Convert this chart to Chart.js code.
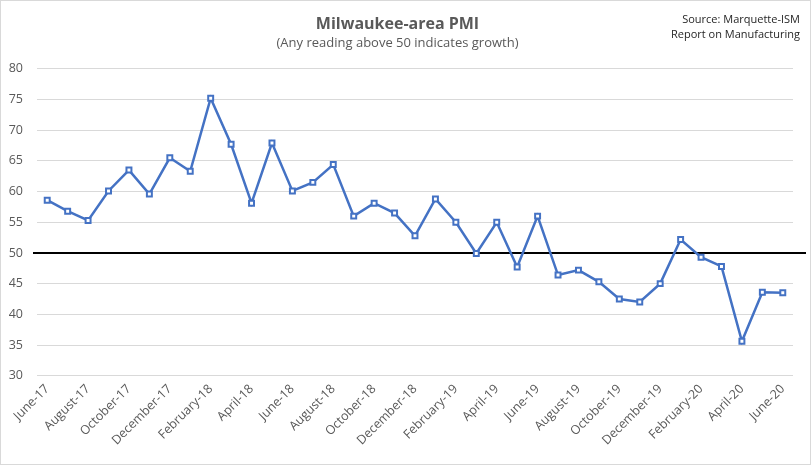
<!DOCTYPE html>
<html>
<head>
<meta charset="utf-8">
<script src="https://cdn.jsdelivr.net/npm/chart.js@4.4.1/dist/chart.umd.min.js"></script>
<style>
    html, body { margin: 0; padding: 0; background: #fff; }
    canvas { display: block; }
</style>
</head>
<body>
<canvas id="pmiChart" width="811" height="465"></canvas>
<script>
// Month labels, June 2017 to June 2020
const months = [
    'June-17', 'July-17', 'August-17', 'September-17', 'October-17', 'November-17',
    'December-17', 'January-18', 'February-18', 'March-18', 'April-18', 'May-18',
    'June-18', 'July-18', 'August-18', 'September-18', 'October-18', 'November-18',
    'December-18', 'January-19', 'February-19', 'March-19', 'April-19', 'May-19',
    'June-19', 'July-19', 'August-19', 'September-19', 'October-19', 'November-19',
    'December-19', 'January-20', 'February-20', 'March-20', 'April-20', 'May-20',
    'June-20'
];

// PMI readings
const pmiValues = [
    58.6, 56.8, 55.3, 60.1, 63.5, 59.6,
    65.5, 63.3, 75.2, 67.7, 58.1, 67.9,
    60.1, 61.5, 64.4, 56.0, 58.1, 56.5,
    52.8, 58.8, 55.0, 49.9, 55.0, 47.7,
    56.0, 46.4, 47.2, 45.3, 42.5, 42.0,
    45.0, 52.2, 49.3, 47.8, 35.6, 43.6,
    43.5
];

const growthLine = 50;
const yMin = 30;
const yMax = 80;
const yStep = 5;

const textGray = '#595959';
const lineBlue = '#4472C4';

// Draws the 50 threshold line, the source note and the outer border
const extras = {
    id: 'extras',
    beforeDraw(chart) {
        const ctx = chart.ctx;
        ctx.save();
        ctx.fillStyle = '#ffffff';
        ctx.fillRect(0, 0, chart.width, chart.height);
        ctx.restore();
    },
    beforeDatasetsDraw(chart) {
        const ctx = chart.ctx;
        const area = chart.chartArea;
        const y = chart.scales.y.getPixelForValue(growthLine);
        ctx.save();
        ctx.strokeStyle = '#000000';
        ctx.lineWidth = 2;
        ctx.beginPath();
        ctx.moveTo(area.left - 4, y);
        ctx.lineTo(area.right + 13, y);
        ctx.stroke();
        ctx.restore();
    },
    afterDraw(chart) {
        const ctx = chart.ctx;
        ctx.save();
        ctx.fillStyle = '#262626';
        ctx.font = '11px "Open Sans"';
        ctx.textAlign = 'right';
        ctx.textBaseline = 'middle';
        ctx.fillText('Source: Marquette-ISM', 800, 20);
        ctx.fillText('Report on Manufacturing', 800, 35);
        ctx.strokeStyle = '#d9d9d9';
        ctx.lineWidth = 1;
        ctx.strokeRect(0.5, 0.5, chart.width - 1, chart.height - 1);
        ctx.restore();
    }
};

const ctx = document.getElementById('pmiChart');

new Chart(ctx, {
    type: 'line',
    data: {
        labels: months,
        datasets: [{
            label: 'PMI',
            data: pmiValues,
            borderColor: lineBlue,
            borderWidth: 2.5,
            pointStyle: 'rect',
            pointRadius: 3.5,
            pointBorderWidth: 2,
            pointBackgroundColor: '#ffffff',
            pointBorderColor: lineBlue,
            tension: 0
        }]
    },
    options: {
        responsive: false,
        animation: false,
        devicePixelRatio: 1,
        layout: {
            padding: { top: 4, left: 2, right: 18, bottom: 11 }
        },
        plugins: {
            legend: { display: false },
            tooltip: { enabled: false },
            title: {
                display: true,
                text: 'Milwaukee-area PMI',
                color: textGray,
                font: { family: 'Open Sans', size: 16, weight: 'bold' },
                padding: { top: 11, bottom: 1 }
            },
            subtitle: {
                display: true,
                text: '(Any reading above 50 indicates growth)',
                color: textGray,
                font: { family: 'Open Sans', size: 13 },
                padding: { bottom: 18 }
            }
        },
        scales: {
            x: {
                offset: true,
                grid: { display: false, drawTicks: false },
                border: { display: false },
                afterFit: function(scale) {
                    scale.paddingLeft = 0;
                    scale.paddingRight = 0;
                },
                ticks: {
                    autoSkip: false,
                    maxRotation: 45,
                    minRotation: 45,
                    padding: 6,
                    color: textGray,
                    font: { family: 'Open Sans', size: 12.5 },
                    callback: function(value, index) {
                        return index % 2 === 0 ? months[index] : '';
                    }
                }
            },
            y: {
                min: yMin,
                max: yMax,
                grid: { color: '#d9d9d9', drawTicks: false },
                border: { display: false },
                afterFit: function(scale) {
                    scale.width = 35;
                },
                ticks: {
                    stepSize: yStep,
                    padding: 14,
                    color: textGray,
                    font: { family: 'Open Sans', size: 12.5 }
                }
            }
        }
    },
    plugins: [extras]
});
</script>
</body>
</html>
